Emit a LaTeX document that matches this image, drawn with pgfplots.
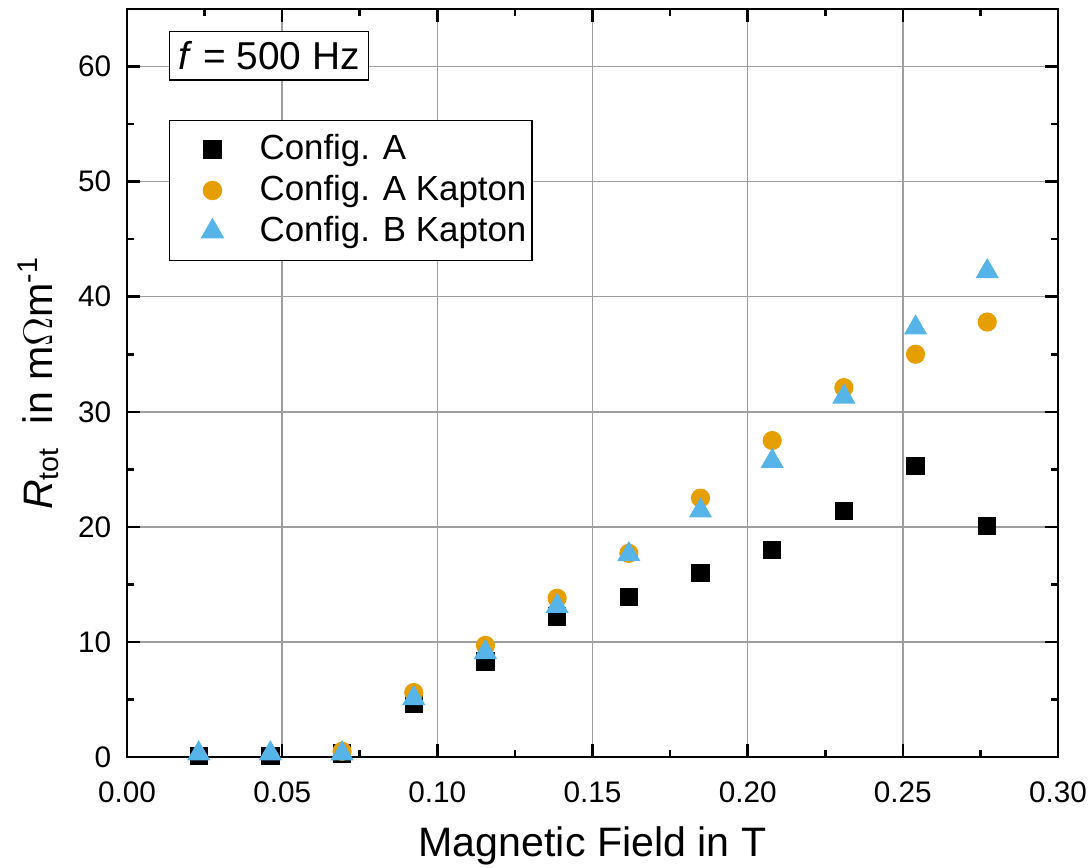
\documentclass[border=0pt]{standalone}
\usepackage{pgfplots}
\pgfplotsset{compat=1.18}
\usepackage{fontspec}
\setmainfont{Liberation Sans}
\definecolor{cOrange}{HTML}{E69F00}
\definecolor{cBlue}{HTML}{56B4E9}
\pgfplotsset{
    dots/.style={only marks,
        legend image code/.code={\path[draw=none, fill=none] (-3pt,-3pt) (26.5pt,3pt);
            \draw[##1] plot coordinates {(12pt,0pt)};}},
}
\begin{document}
\begin{tikzpicture}
\useasboundingbox (-44.45pt,-38.5pt) rectangle (337.75pt,264.95pt);
\begin{axis}[
    scale only axis,
    width=325.85pt,
    height=261.8pt,
    xmin=0, xmax=0.30,
    ymin=0, ymax=65,
    xtick={0,0.05,0.10,0.15,0.20,0.25,0.30},
    ytick={0,10,20,30,40,50,60},
    minor x tick num=1,
    minor y tick num=1,
    tick align=inside,
    major tick length=4.5pt,
    minor tick length=2.3pt,
    tick style={black, line width=0.9pt},
    axis line style={black, line width=0.9pt},
    grid=major,
    grid style={line width=0.5pt, draw=black!38},
    scaled x ticks=false,
    xticklabel style={/pgf/number format/fixed, /pgf/number format/fixed zerofill,
        /pgf/number format/precision=2, yshift=-5.2pt},
    yticklabel style={xshift=-2pt},
    /pgf/number format/assume math mode=true,
    tick label style={font=\fontsize{10.4}{12}\selectfont},
    label style={font=\fontsize{14.4}{16}\selectfont},
    xlabel style={yshift=-1.5pt},
    ylabel style={yshift=0pt},
    xlabel={Magnetic Field in T},
    ylabel={\textit{R}\textsubscript{tot}\ \ in m$\Omega$m\textsuperscript{-1}},
    legend style={at={(0.045,0.852)}, anchor=north west, draw=black, line width=0.5pt,
        font=\fontsize{12.2}{14}\selectfont, cells={anchor=west},
        row sep=0pt, inner xsep=0pt, inner ysep=3pt},
    legend cell align=left,
]
\addplot[dots, mark=square*, mark size=3pt, color=black] coordinates {
(0.0231,0.1) (0.0462,0.1) (0.0693,0.3) (0.0924,4.6) (0.1155,8.3) (0.1386,12.2)
(0.1617,13.9) (0.1848,16.0) (0.2079,18.0) (0.2310,21.4) (0.2541,25.3) (0.2772,20.1)
};
\addlegendentry{Config. A}
\addplot[dots, mark=*, mark size=3.15pt, color=cOrange] coordinates {
(0.0693,0.5) (0.0924,5.6) (0.1155,9.7) (0.1386,13.8) (0.1617,17.7)
(0.1848,22.5) (0.2079,27.5) (0.2310,32.1) (0.2541,35.0) (0.2772,37.8)
};
\addlegendentry{Config. A Kapton}
\addplot[dots, mark=triangle*, mark size=4.3pt, color=cBlue] coordinates {
(0.0231,0.3) (0.0462,0.3) (0.0693,0.3) (0.0924,5.1) (0.1155,9.1) (0.1386,13.1)
(0.1617,17.6) (0.1848,21.4) (0.2079,25.7) (0.2310,31.3) (0.2541,37.3) (0.2772,42.2)
};
\addlegendentry{Config. B Kapton}
\node[draw=black, line width=0.5pt, fill=white, anchor=north west, inner xsep=3pt, inner ysep=3.5pt,
      font=\fontsize{13.6}{16}\selectfont]
    at (rel axis cs:0.045,0.971) {\textit{f} = 500 Hz};
\end{axis}
\end{tikzpicture}
\end{document}
